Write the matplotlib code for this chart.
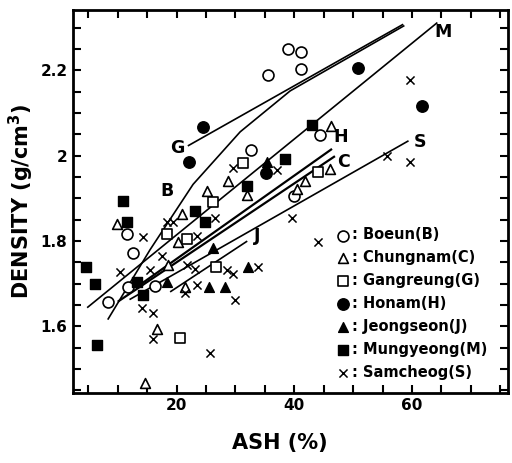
import matplotlib
matplotlib.use("Agg")
import matplotlib.pyplot as plt
from matplotlib.ticker import MultipleLocator, FixedLocator

# ---- measured samples: ash content (%) and density (g/cm3) by mine ----
boeun_ash = [38.9, 41.2, 35.5, 41.2, 44.4, 32.7, 11.5, 12.6, 11.7, 16.3, 8.4, 40.0]
boeun_den = [2.249, 2.244, 2.190, 2.203, 2.049, 2.013, 1.816, 1.773, 1.693, 1.695, 1.657, 1.905]

chungnam_ash = [28.7, 25.2, 32.0, 46.3, 46.1, 41.8, 40.5, 9.9, 20.9, 20.3, 18.5, 21.4, 16.7, 14.6]
chungnam_den = [1.940, 1.917, 1.909, 2.070, 1.969, 1.940, 1.921, 1.839, 1.863, 1.797, 1.745, 1.693, 1.595, 1.467]

gangreung_ash = [31.3, 44.0, 26.2, 18.4, 21.8, 26.7, 20.6]
gangreung_den = [1.983, 1.961, 1.891, 1.816, 1.806, 1.740, 1.574]

honam_ash = [24.5, 22.1, 35.2, 50.9, 61.7]
honam_den = [2.068, 1.985, 1.959, 2.206, 2.117]

jeongseon_ash = [35.4, 26.2, 32.1, 18.4, 25.5, 28.2]
jeongseon_den = [1.985, 1.785, 1.740, 1.705, 1.693, 1.693]

mungyeong_ash = [38.4, 32.0, 43.0, 10.9, 11.6, 23.1, 24.8, 4.6, 6.1, 13.3, 14.3, 6.5]
mungyeong_den = [1.992, 1.929, 2.072, 1.895, 1.844, 1.870, 1.844, 1.740, 1.700, 1.705, 1.674, 1.557]

samcheog_ash = [29.6, 37.1, 59.7, 55.8, 59.7, 39.6, 44.0, 33.8, 26.5, 18.4, 19.4, 14.3,
                23.5, 17.5, 21.8, 23.1, 28.5, 29.6, 10.4, 15.5, 21.4, 23.5, 29.9, 14.1,
                16.0, 16.0, 25.7]
samcheog_den = [1.971, 1.966, 2.178, 1.999, 1.985, 1.853, 1.797, 1.740, 1.853, 1.844, 1.844, 1.809,
                1.811, 1.766, 1.745, 1.735, 1.733, 1.722, 1.728, 1.733, 1.679, 1.698, 1.663, 1.643,
                1.632, 1.571, 1.538]

# ---- fitted relations for each mine (ash %, density) ----
fit_B_ash = [8.3, 15.5, 22.8, 30.8, 39.3, 58.7]
fit_B_den = [1.616, 1.780, 1.933, 2.056, 2.152, 2.305]
fit_G_ash = [21.9, 58.5]
fit_G_den = [2.023, 2.308]
fit_M_ash = [4.8, 64.3]
fit_M_den = [1.644, 2.312]
fit_H_ash = [13.3, 46.4]
fit_H_den = [1.693, 2.016]
fit_C_ash = [10.0, 46.9]
fit_C_den = [1.658, 1.999]
fit_J_ash = [18.9, 32.0]
fit_J_den = [1.681, 1.800]
fit_S_ash = [12.0, 59.4]
fit_S_den = [1.663, 2.035]

# curve tags
tag_names = ["M", "H", "C", "S", "G", "B", "J"]
tag_ash = [65.3, 47.8, 48.3, 61.4, 20.2, 18.4, 33.7]
tag_den = [2.291, 2.043, 1.985, 2.032, 2.018, 1.917, 1.811]

x_ticks = [20, 40, 60]
y_ticks = [1.6, 1.8, 2.0, 2.2]
y_tick_labels = ["1.6", "1.8", "2", "2.2"]

fig = plt.figure(figsize=(5.12, 4.63), dpi=100)
ax = fig.add_axes([0.1426, 0.152, 0.8496, 0.826])

fits = [(fit_B_ash, fit_B_den, 1.2), (fit_G_ash, fit_G_den, 1.2), (fit_M_ash, fit_M_den, 1.2),
        (fit_H_ash, fit_H_den, 1.6), (fit_C_ash, fit_C_den, 1.6), (fit_J_ash, fit_J_den, 1.2),
        (fit_S_ash, fit_S_den, 1.2)]
for fx, fy, lw in fits:
    ax.plot(fx, fy, color="black", lw=lw, solid_capstyle="butt", zorder=2)

ms = 62
h_b = ax.scatter(boeun_ash, boeun_den, s=ms, marker="o", facecolors="white",
                 edgecolors="black", linewidths=1.2, zorder=3)
h_c = ax.scatter(chungnam_ash, chungnam_den, s=ms * 0.8, marker="^", facecolors="white",
                 edgecolors="black", linewidths=1.2, zorder=3)
h_g = ax.scatter(gangreung_ash, gangreung_den, s=ms * 0.75, marker="s", facecolors="white",
                 edgecolors="black", linewidths=1.2, zorder=3)
h_h = ax.scatter(honam_ash, honam_den, s=ms * 1.1, marker="o", facecolors="black",
                 edgecolors="black", zorder=3)
h_j = ax.scatter(jeongseon_ash, jeongseon_den, s=ms * 0.8, marker="^", facecolors="black",
                 edgecolors="black", zorder=3)
h_m = ax.scatter(mungyeong_ash, mungyeong_den, s=ms * 0.85, marker="s", facecolors="black",
                 edgecolors="black", zorder=3)
h_s = ax.scatter(samcheog_ash, samcheog_den, s=ms * 0.55, marker="x", color="black",
                 linewidths=1.1, zorder=3)

for name, tx, ty in zip(tag_names, tag_ash, tag_den):
    ax.text(tx, ty, name, fontsize=12.5, fontweight="bold", ha="center", va="center")

leg = ax.legend([h_b, h_c, h_g, h_h, h_j, h_m, h_s],
                [": Boeun(B)", ": Chungnam(C)", ": Gangreung(G)", ": Honam(H)",
                 ": Jeongseon(J)", ": Mungyeong(M)", ": Samcheog(S)"],
                loc="upper left", bbox_to_anchor=(0.588, 0.455), frameon=False,
                handlelength=0.8, handletextpad=0.2, labelspacing=0.54,
                borderpad=0.1, prop={"size": 10.5, "weight": "bold"})

ax.set_xlim(2.4, 76.3)
ax.set_ylim(1.445, 2.341)
ax.xaxis.set_major_locator(FixedLocator(x_ticks))
ax.xaxis.set_minor_locator(MultipleLocator(5))
ax.yaxis.set_major_locator(FixedLocator(y_ticks))
ax.yaxis.set_minor_locator(MultipleLocator(0.05))
ax.set_xticklabels([str(t) for t in x_ticks])
ax.set_yticklabels(y_tick_labels)
ax.tick_params(which="both", direction="in", top=True, right=True, length=6, width=1.5,
               labelsize=11, pad=4)
for lab in ax.get_xticklabels() + ax.get_yticklabels():
    lab.set_fontweight("bold")
for sp in ax.spines.values():
    sp.set_linewidth(2.0)

ax.set_xlabel("ASH (%)", fontsize=15, fontweight="bold", va="center")
ax.xaxis.set_label_coords(0.476, -0.131)
ax.set_ylabel("DENSITY (g/cm$^\\mathbf{3}$)", fontsize=15, fontweight="bold", va="center")
ax.yaxis.set_label_coords(-0.118, 0.50)

fig.savefig("out.png", dpi=100)
